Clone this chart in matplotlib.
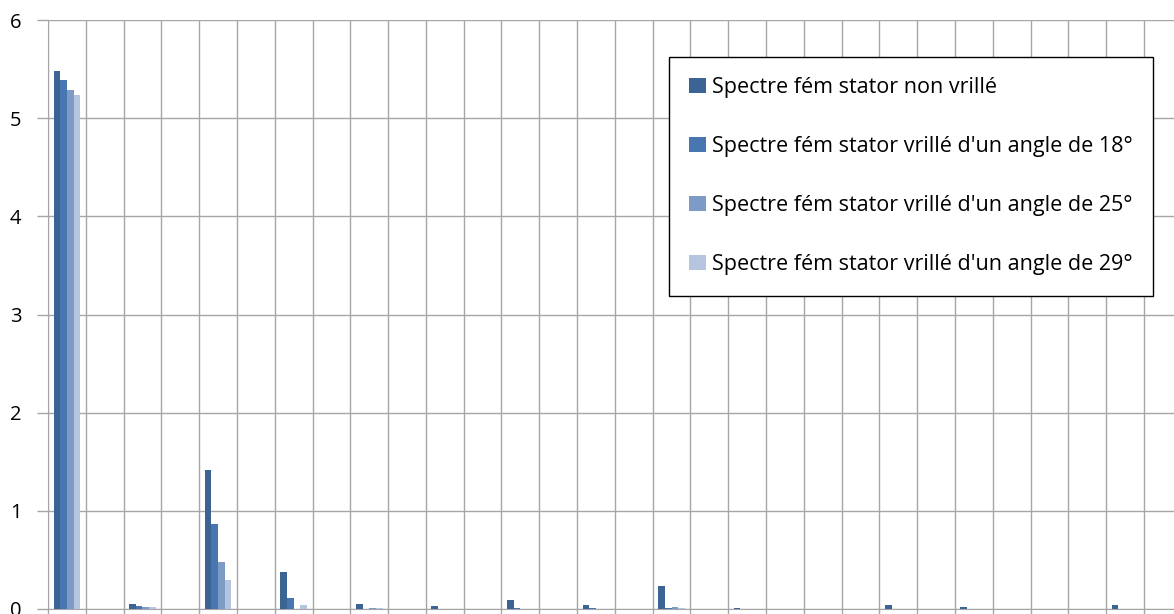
from matplotlib import pyplot as plt
import numpy as np

rangs = list(range(1, 31))

non_vrille = [5.48, 0, 0.05, 0, 1.42, 0, 0.38, 0, 0.05, 0, 0.035, 0, 0.095, 0, 0.045,
              0, 0.235, 0, 0.015, 0, 0, 0, 0.04, 0, 0.02, 0, 0, 0, 0.04, 0]
vrille_18 = [5.39, 0, 0.03, 0, 0.87, 0, 0.115, 0, 0.005, 0, 0, 0, 0.015, 0, 0.015,
             0, 0.01, 0, 0, 0, 0, 0, 0, 0, 0, 0, 0, 0, 0, 0]
vrille_25 = [5.29, 0, 0.025, 0, 0.48, 0, 0.005, 0, 0.01, 0, 0, 0, 0, 0, 0.005,
             0, 0.025, 0, 0, 0, 0, 0, 0, 0, 0, 0, 0, 0, 0, 0]
vrille_29 = [5.24, 0, 0.025, 0, 0.30, 0, 0.04, 0, 0.01, 0, 0, 0, 0, 0, 0,
             0, 0.015, 0, 0, 0, 0, 0, 0, 0, 0, 0, 0, 0, 0, 0]

series = [non_vrille, vrille_18, vrille_25, vrille_29]
noms = ["Spectre fém stator non vrillé",
        "Spectre fém stator vrillé d'un angle de 18°",
        "Spectre fém stator vrillé d'un angle de 25°",
        "Spectre fém stator vrillé d'un angle de 29°"]
couleurs = ['#3B6394', '#4876B0', '#7E9BC8', '#B5C4DF']

plt.rcParams['font.family'] = ['Open Sans', 'DejaVu Sans']

fig = plt.figure(figsize=(11.74, 6.14), dpi=100)
W, H = 1174, 614
ax = fig.add_axes([48 / W, 5 / H, 30 * 37.79 / W, 589 / H])

x = np.arange(len(rangs))
larg = 0.177
for i, (s, nom, c) in enumerate(zip(series, noms, couleurs)):
    ax.bar(x + (i - 1.5) * larg, s, width=larg, color=c, label=nom, zorder=3)

ax.set_xlim(-0.5, len(rangs) - 0.5)
ax.set_ylim(0, 6)
ax.set_xticks(np.arange(len(rangs) + 1) - 0.5)
ax.set_xticklabels([])
ax.set_yticks(range(7))
ax.grid(True, color='#A6A6A6', linewidth=1.0, zorder=0)
ax.tick_params(axis='both', direction='out', length=8, color='#A6A6A6', width=1.0)
ax.tick_params(axis='y', labelsize=14.5, pad=11)
for cote in ['top', 'right']:
    ax.spines[cote].set_visible(False)
for cote in ['left', 'bottom']:
    ax.spines[cote].set_color('#A6A6A6')

leg = ax.legend(loc='upper left', bbox_to_anchor=(669 / W, 1 - 57 / H),
                bbox_transform=fig.transFigure, borderaxespad=0,
                fontsize=15.5, frameon=True, fancybox=False, framealpha=1,
                edgecolor='black', handlelength=0.75, handleheight=0.7,
                handletextpad=0.3, labelspacing=1.76, borderpad=0.95)
leg.get_frame().set_linewidth(1.0)

plt.savefig('out.png', dpi=100)
